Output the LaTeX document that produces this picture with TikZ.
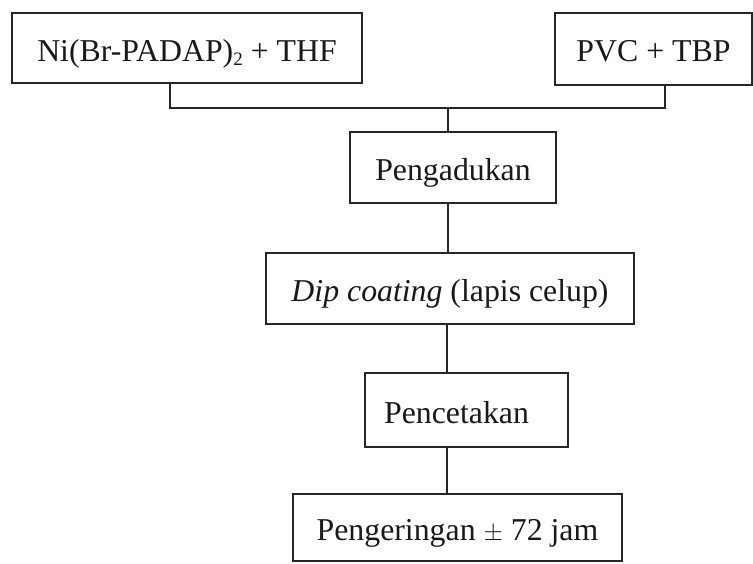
\documentclass[tikz,border=0pt]{standalone}
\usepackage{fontspec}
\setmainfont{Liberation Serif}
\newcommand{\smallsub}[1]{\raisebox{-4pt}{\fontsize{19}{19}\selectfont #1}}
\begin{document}
\begin{tikzpicture}[x=1pt,y=-1pt,
  procbox/.style={draw=black!85, line width=1.4pt, inner sep=0pt, text=black!90,
    text height=26pt, text depth=0pt,
    font=\fontsize{31.8}{36}\selectfont},
  conn/.style={draw=black!85, line width=1.4pt}]
\useasboundingbox[fill=white] (0,0) rectangle (753,564);
\node[procbox, minimum width=350pt, minimum height=70pt, text height=28pt] (b1) at (187,48) {Ni(Br-PADAP)\smallsub{2} + THF};
\node[procbox, minimum width=197pt, minimum height=72pt] (b2) at (653.5,49) {PVC + TBP};
\node[procbox, minimum width=206pt, minimum height=71pt] (b3) at (453,167.5) {Pengadukan};
\node[procbox, minimum width=368pt, minimum height=71pt] (b4) at (450,288.5) {\textit{Dip coating} (lapis celup)};
\node[procbox, minimum width=203pt, minimum height=74pt] (b5) at (466.5,410) {Pencetakan\hspace*{20pt}};
\node[procbox, minimum width=329pt, minimum height=67pt] (b6) at (457.5,527.5) {Pengeringan $\pm$ 72 jam};
\coordinate (jl) at (170,108);
\coordinate (jr) at (665,108);
\coordinate (jm) at (448,108);
\coordinate (cx) at (447,0);
\draw[conn] (b1.south -| jl) -- (jl) -- (jr) -- (b2.south -| jr);
\draw[conn] (jm) -- (b3.north -| jm);
\draw[conn] (b3.south -| jm) -- (b4.north -| jm);
\draw[conn] (b4.south -| cx) -- (b5.north -| cx);
\draw[conn] (b5.south -| cx) -- (b6.north -| cx);
\end{tikzpicture}
\end{document}
